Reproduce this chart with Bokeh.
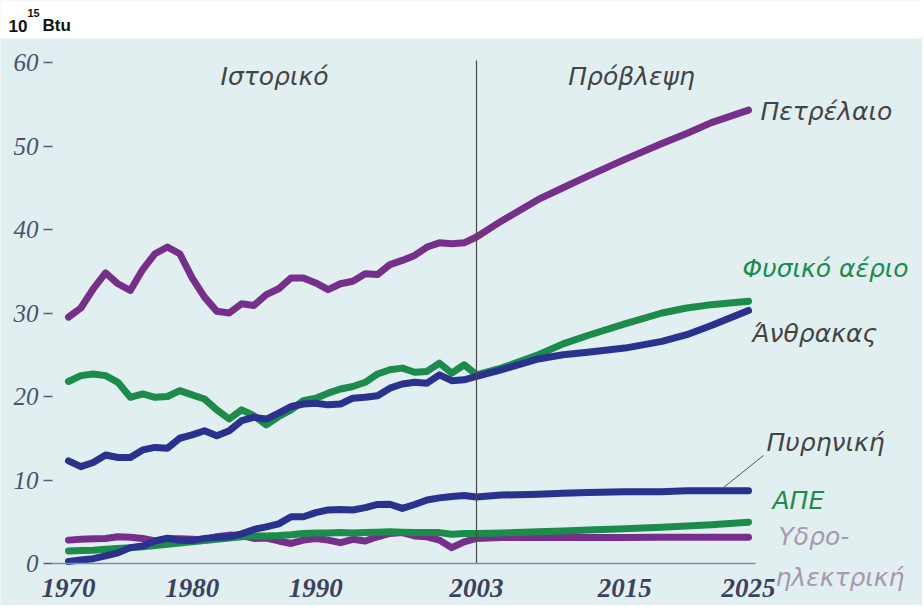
from bokeh.plotting import figure
from bokeh.models import Label, Arrow, FixedTicker, BoxAnnotation
from bokeh.embed import file_html
from bokeh.resources import INLINE

# ---- data (10^15 Btu) ----
years_hist = list(range(1970, 2004))
oil_hist = [29.5, 30.6, 32.9, 34.8, 33.5, 32.7, 35.2, 37.1, 37.9, 37.1, 34.2, 31.9, 30.2, 30.0, 31.1, 30.9, 32.2,
            32.9, 34.2, 34.2, 33.6, 32.8, 33.5, 33.8, 34.7, 34.6, 35.8, 36.3, 36.9, 37.9, 38.4, 38.3, 38.4, 39.1]
gas_hist = [21.8, 22.5, 22.7, 22.5, 21.7, 19.9, 20.3, 19.9, 20.0, 20.7, 20.2, 19.7, 18.4, 17.3, 18.4, 17.7, 16.6,
            17.6, 18.4, 19.5, 19.8, 20.4, 20.9, 21.2, 21.7, 22.7, 23.2, 23.4, 22.9, 23.0, 24.0, 22.8, 23.8, 22.6]
coal_hist = [12.3, 11.6, 12.1, 13.0, 12.7, 12.7, 13.6, 13.9, 13.8, 15.0, 15.4, 15.9, 15.3, 15.9, 17.1, 17.5, 17.3,
             18.0, 18.8, 19.1, 19.2, 19.0, 19.1, 19.8, 19.9, 20.1, 21.0, 21.5, 21.7, 21.6, 22.6, 21.9, 22.0, 22.4]
nuclear_hist = [0.24, 0.41, 0.58, 0.91, 1.27, 1.90, 2.11, 2.70, 3.02, 2.78, 2.74, 3.01, 3.13, 3.20, 3.55, 4.08, 4.38,
                4.75, 5.59, 5.60, 6.10, 6.42, 6.48, 6.41, 6.69, 7.08, 7.09, 6.60, 7.07, 7.61, 7.86, 8.03, 8.14, 7.96]
renew_hist = [1.5, 1.55, 1.6, 1.7, 1.8, 1.9, 2.0, 2.15, 2.3, 2.45, 2.6, 2.75, 2.9, 3.05, 3.2, 3.3, 3.3,
              3.35, 3.45, 3.6, 3.65, 3.65, 3.7, 3.65, 3.7, 3.75, 3.8, 3.75, 3.7, 3.7, 3.7, 3.5, 3.6, 3.6]
hydro_hist = [2.8, 2.9, 2.95, 3.0, 3.2, 3.15, 3.0, 2.7, 2.95, 2.95, 2.9, 2.85, 3.2, 3.4, 3.35, 3.0, 3.05,
              2.7, 2.4, 2.8, 3.0, 2.8, 2.5, 2.9, 2.7, 3.2, 3.6, 3.7, 3.3, 3.2, 2.8, 1.9, 2.6, 3.0]

years_proj = [2005, 2008, 2010, 2012, 2015, 2018, 2020, 2022, 2025]
oil_proj = [41.0, 43.6, 45.0, 46.4, 48.4, 50.3, 51.5, 52.8, 54.3]
gas_proj = [23.4, 25.0, 26.3, 27.3, 28.7, 30.0, 30.6, 31.0, 31.4]
coal_proj = [23.2, 24.5, 25.0, 25.3, 25.8, 26.6, 27.4, 28.5, 30.3]
nuclear_proj = [8.2, 8.3, 8.4, 8.5, 8.6, 8.6, 8.7, 8.7, 8.7]
renew_proj = [3.65, 3.8, 3.9, 4.0, 4.15, 4.35, 4.5, 4.65, 4.95]
hydro_proj = [3.1, 3.1, 3.1, 3.1, 3.1, 3.15, 3.15, 3.15, 3.15]

x_ticks = [1970, 1980, 1990, 2003, 2015, 2025]
y_ticks = [0, 10, 20, 30, 40, 50, 60]

PURPLE = "#772f8c"
GREEN = "#1b8c4a"
BLUE = "#2a318f"
BG = "#e1eff1"
TXT = "#444444"

W, H = 922, 605
# pixel geometry of the reference: 1970 -> x=68, 2025 -> x=748 ; 0 -> y=563, 60 -> y=62
SX = (748 - 68) / (2025 - 1970)
SY = (563 - 62) / 60.0

def dx(px):
    return 1970 + (px - 68) / SX

def dy(py):
    return (563 - py) / SY

years = years_hist + years_proj

p = figure(width=W, height=H, output_backend="svg", toolbar_location=None,
           x_range=(dx(0), dx(W)), y_range=(dy(H), dy(0)),
           min_border=0, min_border_left=0, min_border_right=0,
           min_border_top=0, min_border_bottom=0)
p.background_fill_color = BG
p.border_fill_color = BG
p.outline_line_color = None
p.grid.grid_line_color = None

# white header strip
p.add_layout(BoxAnnotation(bottom=dy(38), fill_color="white", fill_alpha=1.0, line_color=None, level="underlay"))

series = [
    (hydro_hist + hydro_proj, PURPLE),
    (renew_hist + renew_proj, GREEN),
    (nuclear_hist + nuclear_proj, BLUE),
    (gas_hist + gas_proj, GREEN),
    (coal_hist + coal_proj, BLUE),
    (oil_hist + oil_proj, PURPLE),
]
for vals, col in series:
    p.line(years, vals, line_color=col, line_width=7, line_join="round", line_cap="round")

# history / projection divider
p.segment(x0=[years_hist[-1]], y0=[y_ticks[0]], x1=[years_hist[-1]], y1=[dy(60)],
          line_color="#4a4a4a", line_width=1.2)

# axes drawn at fixed positions inside the frame
p.xaxis.fixed_location = 0
p.xaxis.bounds = (dx(52), dx(755))
p.xaxis.ticker = FixedTicker(ticks=x_ticks)
p.xaxis.major_tick_line_color = None
p.xaxis.minor_tick_line_color = None
p.xaxis.axis_line_color = "#7f8ea8"
p.xaxis.axis_line_width = 1.5
p.xaxis.major_label_text_font = "Liberation Serif"
p.xaxis.major_label_text_font_style = "bold italic"
p.xaxis.major_label_text_font_size = "27px"
p.xaxis.major_label_text_color = "#3b4260"
p.xaxis.major_label_standoff = 9

p.yaxis.fixed_location = dx(52)
p.yaxis.bounds = (0, 60)
p.yaxis.ticker = FixedTicker(ticks=y_ticks)
p.yaxis.axis_line_color = None
p.yaxis.minor_tick_line_color = None
p.yaxis.major_tick_in = 0
p.yaxis.major_tick_out = 9
p.yaxis.major_tick_line_color = "#56607a"
p.yaxis.major_tick_line_width = 1.5
p.yaxis.major_label_text_font = "Liberation Serif"
p.yaxis.major_label_text_font_style = "italic"
p.yaxis.major_label_text_font_size = "25px"
p.yaxis.major_label_text_color = "#4a5272"
p.yaxis.major_label_standoff = 5

def lab(px, py, t, color=TXT, size="25px", align="left", font="DejaVu Sans", style="italic"):
    p.add_layout(Label(x=dx(px), y=dy(py), text=t, text_color=color, text_font=font,
                       text_font_style=style, text_font_size=size,
                       text_align=align, text_baseline="middle"))

# unit header
lab(8, 25, "10", color="#111111", size="17px", font="Liberation Sans", style="bold")
lab(27, 12, "15", color="#111111", size="11px", font="Liberation Sans", style="bold")
lab(42, 25, "Btu", color="#111111", size="17px", font="Liberation Sans", style="bold")

lab(274, 76, "Ιστορικό", align="center")
lab(631, 76, "Πρόβλεψη", align="center")
lab(760, 111, "Πετρέλαιο")
lab(742, 268, "Φυσικό αέριο", color=GREEN)
lab(752, 333, "Άνθρακας")
lab(766, 442, "Πυρηνική")
lab(772, 500, "ΑΠΕ", color=GREEN)
lab(778, 536, "Υδρο-", color="#a898b0")
lab(775, 577, "ηλεκτρική", color="#a898b0")

p.add_layout(Arrow(end=None, x_start=dx(723), y_start=dy(487), x_end=dx(763), y_end=dy(455),
                   line_color="#555555", line_width=1))

open("out.html", "w").write(file_html(p, INLINE))
